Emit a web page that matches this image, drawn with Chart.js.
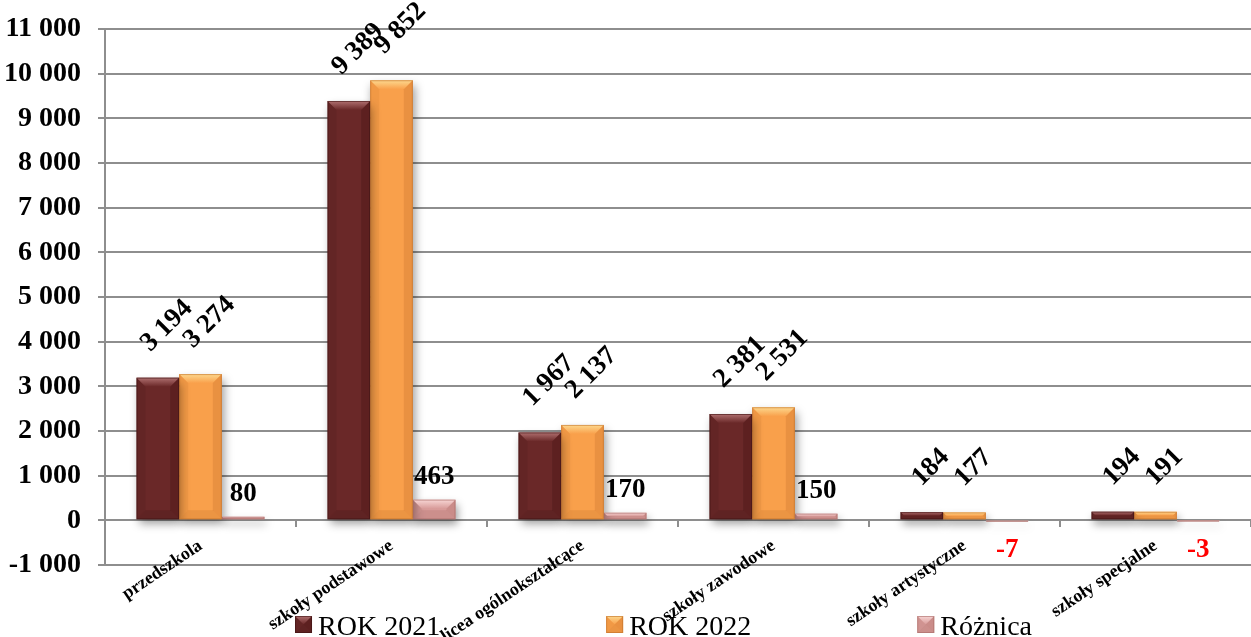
<!DOCTYPE html>
<html>
<head>
<meta charset="utf-8">
<script src="https://cdn.jsdelivr.net/npm/chart.js@4.4.1/dist/chart.umd.min.js"></script>
<style>
    html, body { margin: 0; padding: 0; background: #fff; }
    #wrap { width: 1251px; height: 637px; position: relative; }
</style>
</head>
<body>
<div id="wrap"><canvas id="myBarChart"></canvas></div>
<script>
const categories = ['przedszkola', 'szkoły podstawowe', 'licea ogólnokształcące', 'szkoły zawodowe', 'szkoły artystyczne', 'szkoły specjalne'];
const rok2021 = [3194, 9389, 1967, 2381, 184, 194];
const rok2022 = [3274, 9852, 2137, 2531, 177, 191];
const roznica = [80, 463, 170, 150, -7, -3];
const seriesNames = ['ROK 2021', 'ROK 2022', 'Różnica'];
const yMin = -1000;
const yMax = 11000;
const yStep = 1000;

const FONT = "'Times New Roman', 'Liberation Serif', serif";

// base / light / dark shades for the bevelled look
const palette = [
    { base: '#6a2828', light: '#b07070', dark: '#3e1212' },
    { base: '#f9a04b', light: '#fdd98f', dark: '#c2722a' },
    { base: '#d89b99', light: '#f8d6d5', dark: '#a86a68' }
];

function fmt(v) {
    return String(v).replace(/\B(?=(\d{3})+(?!\d))/g, ' ');
}

function bevelRect(ctx, L, R, T, B, pal) {
    const h = B - T;
    const b = Math.max(0, Math.min(9, h / 2, (R - L) / 2));
    if (h <= 0.5) return;
    ctx.save();
    // top
    const g = ctx.createLinearGradient(0, T, 0, T + b);
    g.addColorStop(0, pal.light);
    g.addColorStop(1, pal.base);
    ctx.fillStyle = g;
    ctx.beginPath();
    ctx.moveTo(L, T); ctx.lineTo(R, T); ctx.lineTo(R - b, T + b); ctx.lineTo(L + b, T + b);
    ctx.closePath(); ctx.fill();
    ctx.fillStyle = pal.dark;
    // left
    ctx.globalAlpha = 0.15;
    ctx.beginPath();
    ctx.moveTo(L, T); ctx.lineTo(L + b, T + b); ctx.lineTo(L + b, B - b); ctx.lineTo(L, B);
    ctx.closePath(); ctx.fill();
    // right
    ctx.globalAlpha = 0.3;
    ctx.beginPath();
    ctx.moveTo(R, T); ctx.lineTo(R - b, T + b); ctx.lineTo(R - b, B - b); ctx.lineTo(R, B);
    ctx.closePath(); ctx.fill();
    // bottom
    ctx.globalAlpha = 0.25;
    ctx.beginPath();
    ctx.moveTo(L, B); ctx.lineTo(R, B); ctx.lineTo(R - b, B - b); ctx.lineTo(L + b, B - b);
    ctx.closePath(); ctx.fill();
    // outline
    ctx.globalAlpha = 0.6;
    ctx.strokeStyle = pal.dark;
    ctx.lineWidth = 1;
    ctx.strokeRect(L + 0.5, T + 0.5, R - L - 1, Math.max(0, h - 1));
    ctx.restore();
}

const barStyle = {
    id: 'barStyle',
    beforeDatasetsDraw(chart) {
        const ctx = chart.ctx;
        ctx.save();
        ctx.shadowColor = 'rgba(0,0,0,0.4)';
        ctx.shadowBlur = 9;
        ctx.shadowOffsetX = 2;
        ctx.shadowOffsetY = 5;
    },
    afterDatasetsDraw(chart) {
        const ctx = chart.ctx;
        ctx.restore();
        chart.data.datasets.forEach((ds, i) => {
            const meta = chart.getDatasetMeta(i);
            meta.data.forEach((bar) => {
                const T = Math.min(bar.y, bar.base);
                const B = Math.max(bar.y, bar.base);
                bevelRect(ctx, bar.x - bar.width / 2, bar.x + bar.width / 2, T, B, palette[i]);
            });
        });

        // value labels
        chart.data.datasets.forEach((ds, i) => {
            const meta = chart.getDatasetMeta(i);
            meta.data.forEach((bar, j) => {
                const v = ds.data[j];
                const text = fmt(v);
                const top = Math.min(bar.y, bar.base);
                ctx.save();
                if (i < 2) {
                    ctx.font = 'bold 27px ' + FONT;
                    ctx.fillStyle = '#000';
                    const w = ctx.measureText(text).width;
                    const side = (w + 18) * Math.SQRT1_2;
                    ctx.translate(bar.x + 9, top - 24 - side / 2);
                    ctx.rotate(-Math.PI / 4);
                    ctx.textAlign = 'center';
                    ctx.textBaseline = 'middle';
                    ctx.fillText(text, 0, 0);
                } else {
                    ctx.font = 'bold 27px ' + FONT;
                    ctx.textAlign = 'center';
                    if (v >= 0) {
                        ctx.fillStyle = '#000';
                        ctx.textBaseline = 'alphabetic';
                        ctx.fillText(text, bar.x, top - 16);
                    } else {
                        ctx.fillStyle = '#ff0000';
                        ctx.textBaseline = 'top';
                        ctx.fillText(text, bar.x, Math.max(bar.y, bar.base) + 15);
                    }
                }
                ctx.restore();
            });
        });
    }
};

const bottomLegend = {
    id: 'bottomLegend',
    afterDraw(chart) {
        const ctx = chart.ctx;
        ctx.save();
        ctx.font = '28px ' + FONT;
        const box = 17;
        const gap = 6;
        const spacing = 166;
        const widths = chart.data.datasets.map(ds => box + gap + ctx.measureText(ds.label).width);
        const total = widths.reduce((a, b) => a + b, 0) + spacing * (widths.length - 1);
        let x = chart.width / 2 + 38 - total / 2;
        const yBase = chart.height - 2;
        chart.data.datasets.forEach((ds, i) => {
            const pal = palette[i];
            ctx.fillStyle = pal.base;
            ctx.fillRect(x, yBase - 19, box, box);
            bevelRect(ctx, x, x + box, yBase - 19, yBase - 19 + box, pal);
            ctx.fillStyle = '#000';
            ctx.textAlign = 'left';
            ctx.textBaseline = 'alphabetic';
            ctx.fillText(ds.label, x + box + gap, yBase);
            x += widths[i] + spacing;
        });
        ctx.restore();
    }
};

function createBarChart() {
    const makeSet = (label, values, i) => ({
        label: label,
        data: values,
        backgroundColor: palette[i].base,
        borderWidth: 0,
        categoryPercentage: 0.67,
        barPercentage: 1.0
    });

    const config = {
        type: 'bar',
        data: {
            labels: categories,
            datasets: [
                makeSet(seriesNames[0], rok2021, 0),
                makeSet(seriesNames[1], rok2022, 1),
                makeSet(seriesNames[2], roznica, 2)
            ]
        },
        options: {
            responsive: true,
            maintainAspectRatio: false,
            animation: false,
            layout: {
                padding: { top: 0, left: 0, right: 0, bottom: 72 }
            },
            plugins: {
                legend: { display: false },
                tooltip: { enabled: false }
            },
            scales: {
                x: {
                    position: { y: 0 },
                    grid: {
                        display: true,
                        drawOnChartArea: false,
                        drawTicks: true,
                        tickLength: 6,
                        color: '#8e8e8e',
                        lineWidth: 2
                    },
                    border: { display: true, color: '#8e8e8e', width: 2 },
                    ticks: {
                        color: '#000',
                        font: { family: FONT, size: 18, weight: 'bold' },
                        minRotation: 34,
                        maxRotation: 34,
                        padding: 9,
                        autoSkip: false
                    }
                },
                y: {
                    min: yMin,
                    max: yMax,
                    afterFit(scale) {
                        scale.width = 105;
                        scale.paddingTop = 29;
                    },
                    grid: {
                        color: '#8e8e8e',
                        lineWidth: 2,
                        tickLength: 7
                    },
                    border: { display: true, color: '#8e8e8e', width: 2 },
                    ticks: {
                        stepSize: yStep,
                        color: '#000',
                        padding: 17,
                        font: { family: FONT, size: 28, weight: 'bold' },
                        callback: (v) => fmt(v)
                    }
                }
            }
        },
        plugins: [barStyle, bottomLegend]
    };
    const ctx = document.getElementById('myBarChart').getContext('2d');
    new Chart(ctx, config);
}

createBarChart();
</script>
</body>
</html>
